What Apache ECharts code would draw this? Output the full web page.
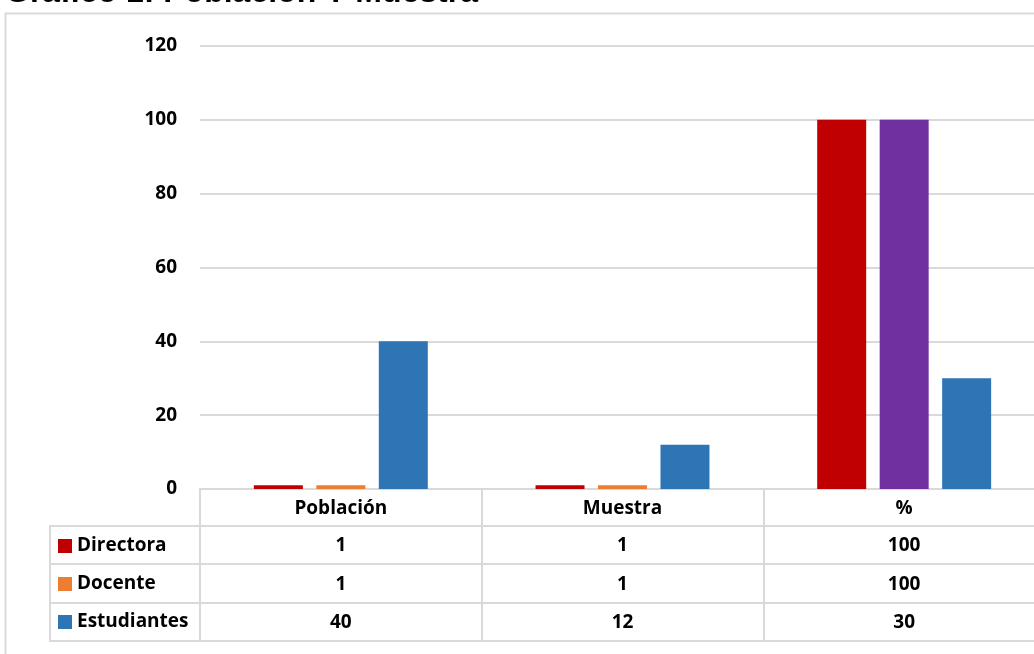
<!DOCTYPE html>
<html><head><meta charset="utf-8">
<script src="https://cdn.jsdelivr.net/npm/echarts@6/dist/echarts.min.js"></script>
<style>html,body{margin:0;padding:0;background:#fff;overflow:hidden}#c{width:1034px;height:654px}</style>
</head><body><div id="c"></div>
<script>
const titleText = 'Gráfico 1: Población Y Muestra';
const categories = ['Población', 'Muestra', '%'];
const seriesNames = ['Directora', 'Docente', 'Estudiantes'];
const directora = [1, 1, 100];
const docente = [1, 1, 100];
const estudiantes = [40, 12, 30];
const yMin = 0, yMax = 120, yStep = 20;

const colors = ['#C00000', '#ED7D31', '#2E75B6'];
const docentePctColor = '#7030A0';
const lineCol = '#d9d9d9';
const FONT = '"Open Sans", sans-serif';
const tableValues = [directora, docente, estudiantes];
const rowOffsets = [37, 75, 114];
const rowHeights = [38, 39, 38];

const chart = echarts.init(document.getElementById('c'), null, {renderer: 'canvas'});

const xAxes = [{
  type: 'category', data: categories, gridIndex: 0, position: 'bottom',
  axisLine: {show: true, lineStyle: {color: lineCol, width: 2}},
  axisTick: {show: true, length: 37, interval: 0, lineStyle: {color: lineCol, width: 2}},
  axisLabel: {color: '#000', fontFamily: FONT, fontWeight: 'bold', fontSize: 19, margin: 20, verticalAlign: 'middle', interval: 0}
}];
tableValues.forEach((vals, i) => {
  xAxes.push({
    type: 'category', data: categories, gridIndex: 0, position: 'bottom', offset: rowOffsets[i],
    axisLine: {show: true, lineStyle: {color: lineCol, width: 2}},
    axisTick: {show: true, length: rowHeights[i], interval: 0, lineStyle: {color: lineCol, width: 2}},
    axisLabel: {color: '#000', fontFamily: FONT, fontWeight: 'bold', fontSize: 19, margin: rowHeights[i] / 2 + 1, verticalAlign: 'middle', interval: 0,
      formatter: (v, idx) => String(vals[idx])}
  });
});
xAxes.push({
  type: 'category', data: categories, gridIndex: 0, position: 'bottom', offset: 152,
  axisLine: {show: true, lineStyle: {color: lineCol, width: 2}},
  axisTick: {show: false}, axisLabel: {show: false}
});

const series = [
  {name: seriesNames[0], data: directora, color: colors[0]},
  {name: seriesNames[1], data: docente.map((v, i) => categories[i] === '%' ? {value: v, itemStyle: {color: docentePctColor}} : v), color: colors[1]},
  {name: seriesNames[2], data: estudiantes, color: colors[2]}
].map(s => ({
  type: 'bar', name: s.name, data: s.data, xAxisIndex: 0, yAxisIndex: 0,
  barWidth: 49, barGap: '27.5%', itemStyle: {color: s.color}, color: s.color
}));

chart.setOption({
  animation: false,
  backgroundColor: '#fff',
  grid: {left: 200, top: 46, width: 845, height: 443, outerBoundsMode: 'none', containLabel: false},
  xAxis: xAxes,
  yAxis: {
    type: 'value', min: yMin, max: yMax, interval: yStep,
    axisLine: {show: false}, axisTick: {show: false},
    splitLine: {lineStyle: {color: lineCol, width: 2}},
    axisLabel: {color: '#000', fontFamily: FONT, fontWeight: 'bold', fontSize: 19, margin: 23}
  },
  legend: {
    data: seriesNames, orient: 'vertical', left: 53, top: 531, selectedMode: false,
    itemWidth: 14, itemHeight: 14, itemGap: 18, icon: 'rect',
    textStyle: {color: '#000', fontFamily: FONT, fontWeight: 'bold', fontSize: 19, lineHeight: 20}
  },
  series: series,
  graphic: [
    {type: 'rect', silent: true, z: -1, shape: {x: 5.5, y: 13.5, width: 1200, height: 800}, style: {fill: 'none', stroke: lineCol, lineWidth: 2}},
    {type: 'rect', silent: true, shape: {x: 50, y: 526, width: 150, height: 115}, style: {fill: 'none', stroke: lineCol, lineWidth: 2}},
    {type: 'line', silent: true, shape: {x1: 50, y1: 564, x2: 200, y2: 564}, style: {stroke: lineCol, lineWidth: 2}},
    {type: 'line', silent: true, shape: {x1: 50, y1: 603, x2: 200, y2: 603}, style: {stroke: lineCol, lineWidth: 2}},
    {type: 'text', silent: true, x: 5, y: 9, style: {text: titleText, fill: '#000', font: 'bold 32px "Liberation Sans", Arial, sans-serif', textVerticalAlign: 'bottom'}}
  ]
});
</script>
</body></html>
